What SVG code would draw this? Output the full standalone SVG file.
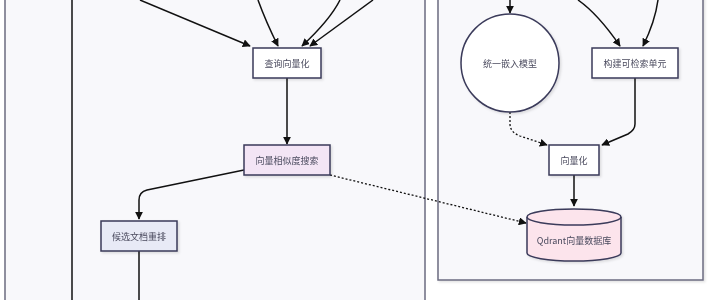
<svg xmlns="http://www.w3.org/2000/svg" width="710" height="300" viewBox="0 0 710 300">
<style>
.cluster{fill:#f8f8fb;stroke:#6b6b80;stroke-width:1.5}
.node{stroke:#3a3a5a;stroke-width:1.5}
.lbl{font-family:"Noto Sans CJK SC","Noto Sans",sans-serif;font-size:9px;fill:#4a4a5e;text-anchor:middle;dominant-baseline:central}
.edge{fill:none;stroke:#111;stroke-width:1.5}
.dot{fill:none;stroke:#111;stroke-width:1.3;stroke-dasharray:2 2}
</style>
<defs>
<marker id="arr" viewBox="0 0 10 10" refX="9" refY="5" markerWidth="8" markerHeight="8" markerUnits="userSpaceOnUse" orient="auto">
<path d="M0,0 L10,5 L0,10 z" fill="#111"/>
</marker>
<filter id="sh" x="-10%" y="-10%" width="130%" height="140%">
<feDropShadow dx="1.5" dy="1.5" stdDeviation="0.8" flood-color="#000" flood-opacity="0.12"/>
</filter>
</defs>
<rect width="710" height="300" fill="#ffffff"/>
<g id="cluster-left"><rect class="cluster" x="5" y="-10" width="420" height="330"/></g>
<g id="cluster-right"><rect class="cluster" x="438" y="-10" width="265" height="290" filter="url(#sh)"/></g>
<g id="connectors">
<path class="edge" d="M72,0 L72,300"/>
<path class="edge" d="M140,0 L250,46" marker-end="url(#arr)"/>
<path class="edge" d="M258,0 Q266,22 278,46" marker-end="url(#arr)"/>
<path class="edge" d="M340,0 Q330,20 302,46" marker-end="url(#arr)"/>
<path class="edge" d="M373,0 L310,46" marker-end="url(#arr)"/>
<path class="edge" d="M510,0 L510,13" marker-end="url(#arr)"/>
<path class="edge" d="M578,0 Q598,14 620,46" marker-end="url(#arr)"/>
<path class="edge" d="M658,0 Q655,22 643,46" marker-end="url(#arr)"/>
<path class="edge" d="M287,78 L287,144" marker-end="url(#arr)"/>
<path class="edge" d="M244,170 L147,190 Q139,192 139,200 L139,219" marker-end="url(#arr)"/>
<path class="edge" d="M139,251 L139,300"/>
<path class="dot" d="M330,175 L526,223" marker-end="url(#arr)"/>
<path class="dot" d="M510,112 L510,124 Q510,132 520,136 L547,145" marker-end="url(#arr)"/>
<path class="edge" d="M635,78 L635,124 Q635,130 628,134 L602,145" marker-end="url(#arr)"/>
<path class="edge" d="M574,175 L574,206" marker-end="url(#arr)"/>
</g>
<g id="n-query" filter="url(#sh)"><rect class="node" x="253" y="48" width="68" height="30" fill="#ffffff"/><text class="lbl" x="287" y="63">查询向量化</text></g>
<g id="n-search" filter="url(#sh)"><rect class="node" x="244" y="145" width="86" height="30" fill="#f3e5f5"/><text class="lbl" x="287" y="160">向量相似度搜索</text></g>
<g id="n-rerank" filter="url(#sh)"><rect class="node" x="101" y="221" width="76" height="30" fill="#e8eaf6"/><text class="lbl" x="139" y="236">候选文档重排</text></g>
<g id="n-embed" filter="url(#sh)"><circle class="node" cx="510" cy="63" r="49" fill="#ffffff"/><text class="lbl" x="510" y="63">统一嵌入模型</text></g>
<g id="n-build" filter="url(#sh)"><rect class="node" x="592" y="48" width="86" height="30" fill="#ffffff"/><text class="lbl" x="635" y="63">构建可检索单元</text></g>
<g id="n-vec" filter="url(#sh)"><rect class="node" x="549" y="145" width="50" height="30" fill="#ffffff"/><text class="lbl" x="574" y="160">向量化</text></g>
<g id="n-qdrant" filter="url(#sh)"><path class="node" d="M527,217 A47,8 0 0 1 621,217 L621,253 A47,8 0 0 1 527,253 Z" fill="#fce4ec"/><path class="node" d="M527,217 A47,8 0 0 0 621,217" fill="none"/><text class="lbl" x="574" y="240">Qdrant向量数据库</text></g>
</svg>
